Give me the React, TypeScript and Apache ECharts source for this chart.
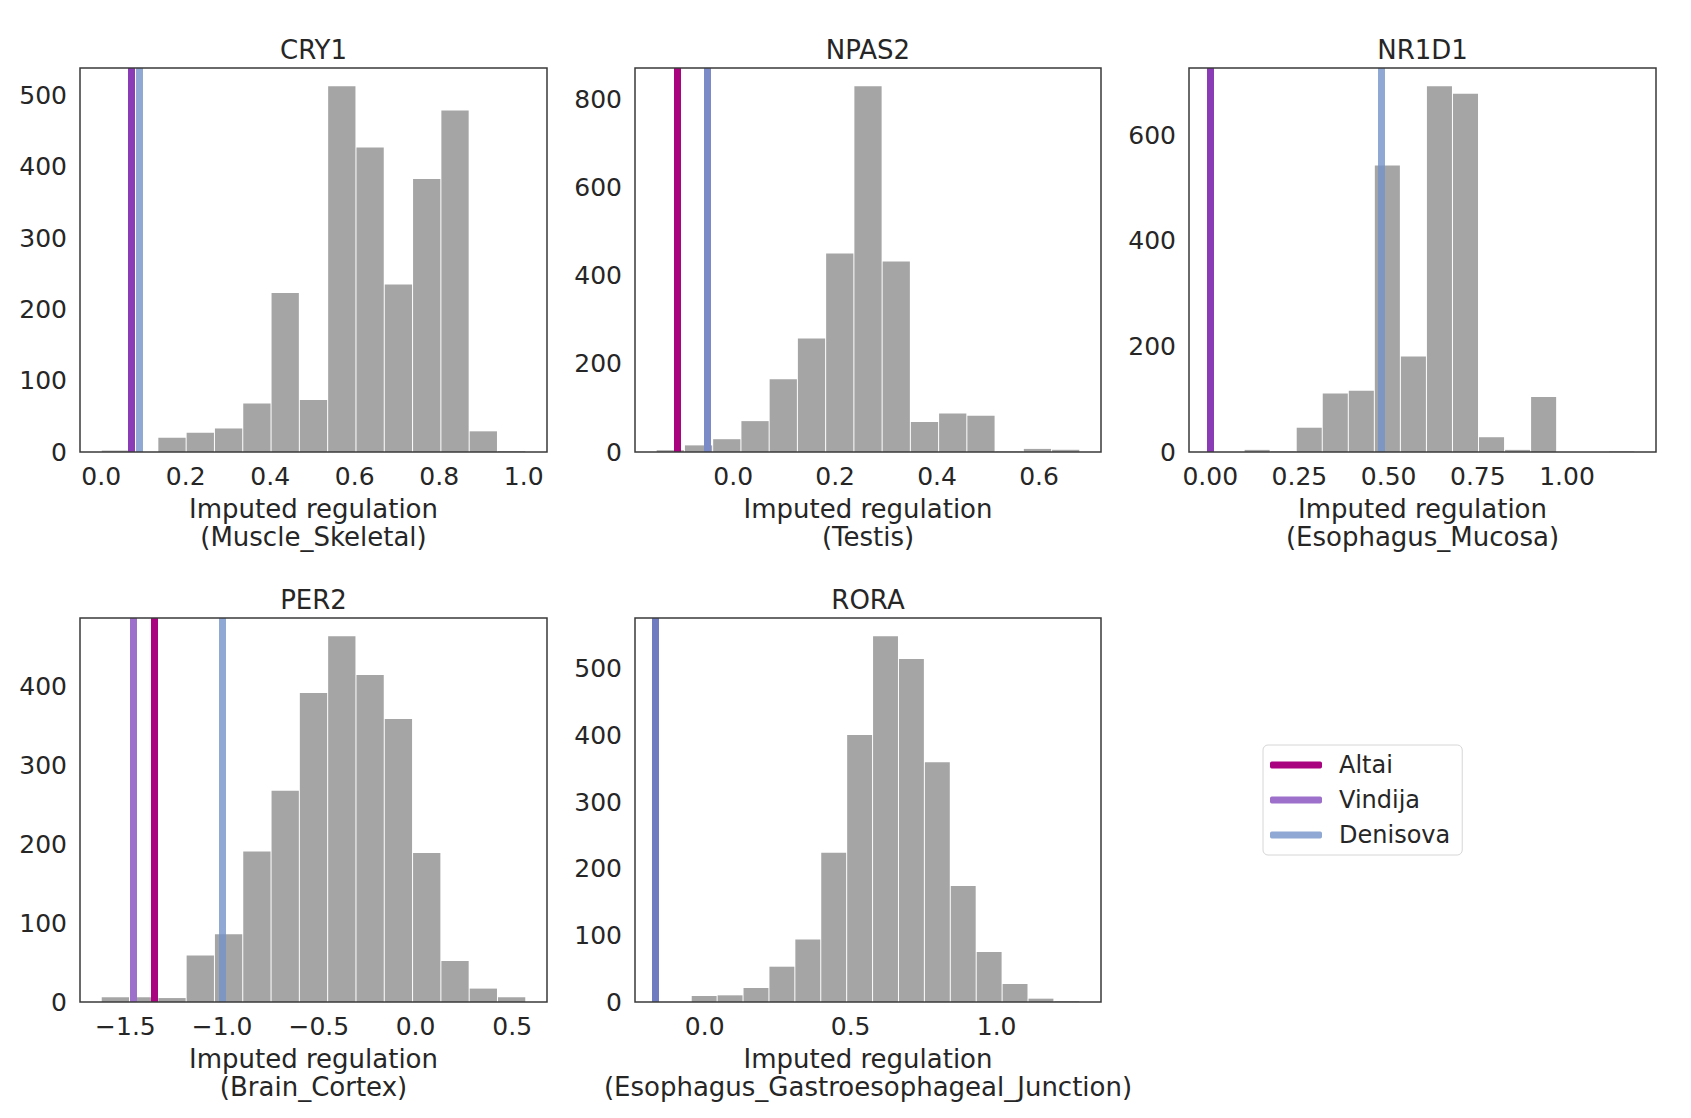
import React, { useEffect, useRef } from 'react';
import * as echarts from 'echarts';

// ---------------- data ----------------
const genes = ['CRY1', 'NPAS2', 'NR1D1', 'PER2', 'RORA'];
const tissues = ['Muscle_Skeletal', 'Testis', 'Esophagus_Mucosa', 'Brain_Cortex', 'Esophagus_Gastroesophageal_Junction'];
const binStarts = [0.0, -0.151, 0.095, -1.625, -0.046];
const binEnds = [1.005, 0.68, 1.19, 0.57, 1.285];
const cry1Counts = [2, 0, 20, 27, 33, 68, 223, 73, 513, 427, 235, 383, 479, 29, 1];
const npas2Counts = [4, 15, 29, 70, 165, 257, 450, 829, 432, 68, 87, 82, 1, 7, 5];
const nr1d1Counts = [4, 1, 46, 111, 116, 543, 181, 693, 679, 28, 4, 104, 0, 0, 1];
const per2Counts = [6, 6, 5, 59, 86, 191, 268, 392, 464, 415, 359, 189, 52, 17, 6];
const roraCounts = [9, 10, 21, 53, 94, 224, 401, 549, 515, 360, 174, 75, 27, 5, 1];
const altaiValues = [0.071, -0.110, 0.0, -1.348, -0.166];
const vindijaValues = [0.071, -0.046, 0.0, -1.463, -0.166];
const denisovaValues = [0.089, -0.046, 0.476, -1.0, -0.166];
const xTickSteps = [0.2, 0.2, 0.25, 0.5, 0.5];
const yTickSteps = [100, 200, 200, 100, 100];
const hominins = ['Altai', 'Vindija', 'Denisova'];

// ---------------- styles / layout ----------------
const FONT = 'DejaVu Sans';
const TEXT = '#262626';
const BAR = '#a5a5a5';
const countsList = [cry1Counts, npas2Counts, nr1d1Counts, per2Counts, roraCounts];
const lineValues = [altaiValues, vindijaValues, denisovaValues];
const legendColors: Record<string, string> = {
  Altai: '#aa037f',
  Vindija: '#9d71cb',
  Denisova: '#8fa8d4',
};
const lineColors: Record<string, string> = {
  Altai: '#aa037f',
  Vindija: '#9d71cb',
  Denisova: 'rgba(115,146,201,0.8)',
  'Altai+Vindija': '#8a3cb7',
  'Vindija+Denisova': '#7b8bc7',
  'Altai+Denisova': '#8a55a8',
  'Altai+Vindija+Denisova': '#6f7dc0',
};
const boxes = [
  { left: 80, top: 68, width: 467, height: 384 },
  { left: 635, top: 68, width: 466, height: 384 },
  { left: 1189, top: 68, width: 467, height: 384 },
  { left: 80, top: 618, width: 467, height: 384 },
  { left: 635, top: 618, width: 466, height: 384 },
];

function fmt(v: number, d: number) {
  if (Math.abs(v) < 1e-9) v = 0;
  return v.toFixed(d).replace('-', '\u2212');
}

function ticks(min: number, max: number, step: number) {
  const out: number[] = [];
  const start = Math.ceil(min / step - 1e-9);
  for (let k = start; k * step <= max + 1e-9; k++) out.push(+(k * step).toFixed(6));
  return out;
}

function buildOption() {
  const grid: any[] = [];
  const xAxis: any[] = [];
  const yAxis: any[] = [];
  const series: any[] = [];
  const title: any[] = [];

  genes.forEach((gene, i) => {
    const counts = countsList[i];
    const n = counts.length;
    const w = (binEnds[i] - binStarts[i]) / n;
    const bins = counts.map((c, k) => [binStarts[i] + k * w, binStarts[i] + (k + 1) * w, c]);
    const vals = lineValues.map((arr) => arr[i]);
    const lo = Math.min(binStarts[i], ...vals);
    const hi = Math.max(binEnds[i], ...vals);
    const xmin = lo - 0.05 * (hi - lo);
    const xmax = hi + 0.05 * (hi - lo);
    const ymax = 1.05 * Math.max(...counts);
    const dec = xTickSteps[i] === 0.25 ? 2 : 1;
    const xt = ticks(xmin, xmax, xTickSteps[i]);
    const yt = ticks(0, ymax, yTickSteps[i]);
    const b = boxes[i];

    grid.push({ ...b, show: true, borderColor: '#3a3a3a', borderWidth: 1.5, backgroundColor: 'rgba(0,0,0,0)', z: 10 });
    title.push({
      text: gene,
      left: b.left + b.width / 2,
      top: b.top - 31,
      textAlign: 'center',
      padding: 0,
      textStyle: { fontFamily: FONT, fontSize: 26, fontWeight: 'normal', color: TEXT },
    });
    xAxis.push({
      type: 'value',
      gridIndex: i,
      min: xmin,
      max: xmax,
      axisLine: { show: false },
      axisTick: { show: false, customValues: xt },
      splitLine: { show: false },
      axisLabel: {
        customValues: xt,
        formatter: (v: number) => fmt(v, dec),
        fontFamily: FONT,
        fontSize: 25,
        color: TEXT,
        margin: 12,
      },
      name: 'Imputed regulation\n(' + tissues[i] + ')',
      nameLocation: 'middle',
      nameGap: 43,
      nameTextStyle: { fontFamily: FONT, fontSize: 26, color: TEXT, lineHeight: 28, verticalAlign: 'top' },
    });
    yAxis.push({
      type: 'value',
      gridIndex: i,
      min: 0,
      max: ymax,
      axisLine: { show: false },
      axisTick: { show: false, customValues: yt },
      splitLine: { show: false },
      axisLabel: {
        customValues: yt,
        formatter: (v: number) => String(Math.round(v)),
        fontFamily: FONT,
        fontSize: 25,
        color: TEXT,
        margin: 13,
      },
    });

    const groups: { v: number; names: string[] }[] = [];
    hominins.forEach((h, k) => {
      const v = lineValues[k][i];
      const g = groups.find((gg) => Math.abs(gg.v - v) < 0.003);
      if (g) g.names.push(h);
      else groups.push({ v, names: [h] });
    });

    series.push({
      type: 'custom',
      name: gene,
      xAxisIndex: i,
      yAxisIndex: i,
      clip: true,
      silent: true,
      encode: { x: [0, 1], y: 2 },
      data: bins,
      renderItem: (params: any, api: any) => {
        const p0 = api.coord([api.value(0), api.value(2)]);
        const p1 = api.coord([api.value(1), 0]);
        return {
          type: 'rect',
          shape: { x: p0[0] + 0.5, y: p0[1], width: p1[0] - p0[0] - 1, height: p1[1] - p0[1] },
          style: { fill: BAR },
        };
      },
      markLine: {
        silent: true,
        symbol: ['none', 'none'],
        label: { show: false },
        emphasis: { disabled: true },
        data: groups.map((g) => ({
          xAxis: g.v,
          lineStyle: { color: lineColors[g.names.join('+')], width: 7, type: 'solid', opacity: 1 },
        })),
      },
    });
  });

  hominins.forEach((h) => {
    series.push({
      type: 'line',
      name: h,
      data: [],
      xAxisIndex: 0,
      yAxisIndex: 0,
      silent: true,
      itemStyle: { color: legendColors[h] },
      lineStyle: { color: legendColors[h] },
    });
  });

  return {
    animation: false,
    backgroundColor: '#ffffff',
    title,
    grid,
    xAxis,
    yAxis,
    series,
    legend: {
      show: true,
      orient: 'vertical',
      left: 1263,
      top: 745,
      data: hominins,
      icon: 'roundRect',
      itemWidth: 52,
      itemHeight: 7,
      itemGap: 9,
      padding: [7, 12, 7, 7],
      borderColor: '#d6d6d6',
      borderWidth: 1,
      borderRadius: 5,
      selectedMode: false,
      textStyle: { fontFamily: FONT, fontSize: 24, color: TEXT, lineHeight: 26, padding: [0, 0, 0, 12] },
    },
  };
}

export default function App() {
  const ref = useRef<HTMLDivElement>(null);
  useEffect(() => {
    if (!ref.current) return;
    const chart = echarts.init(ref.current, undefined, { renderer: 'svg' });
    chart.setOption(buildOption() as any);
    return () => chart.dispose();
  }, []);
  return (
    <div
      ref={ref}
      style={{ position: 'fixed', left: 0, top: 0, width: 1691, height: 1118, background: '#fff' }}
    />
  );
}
